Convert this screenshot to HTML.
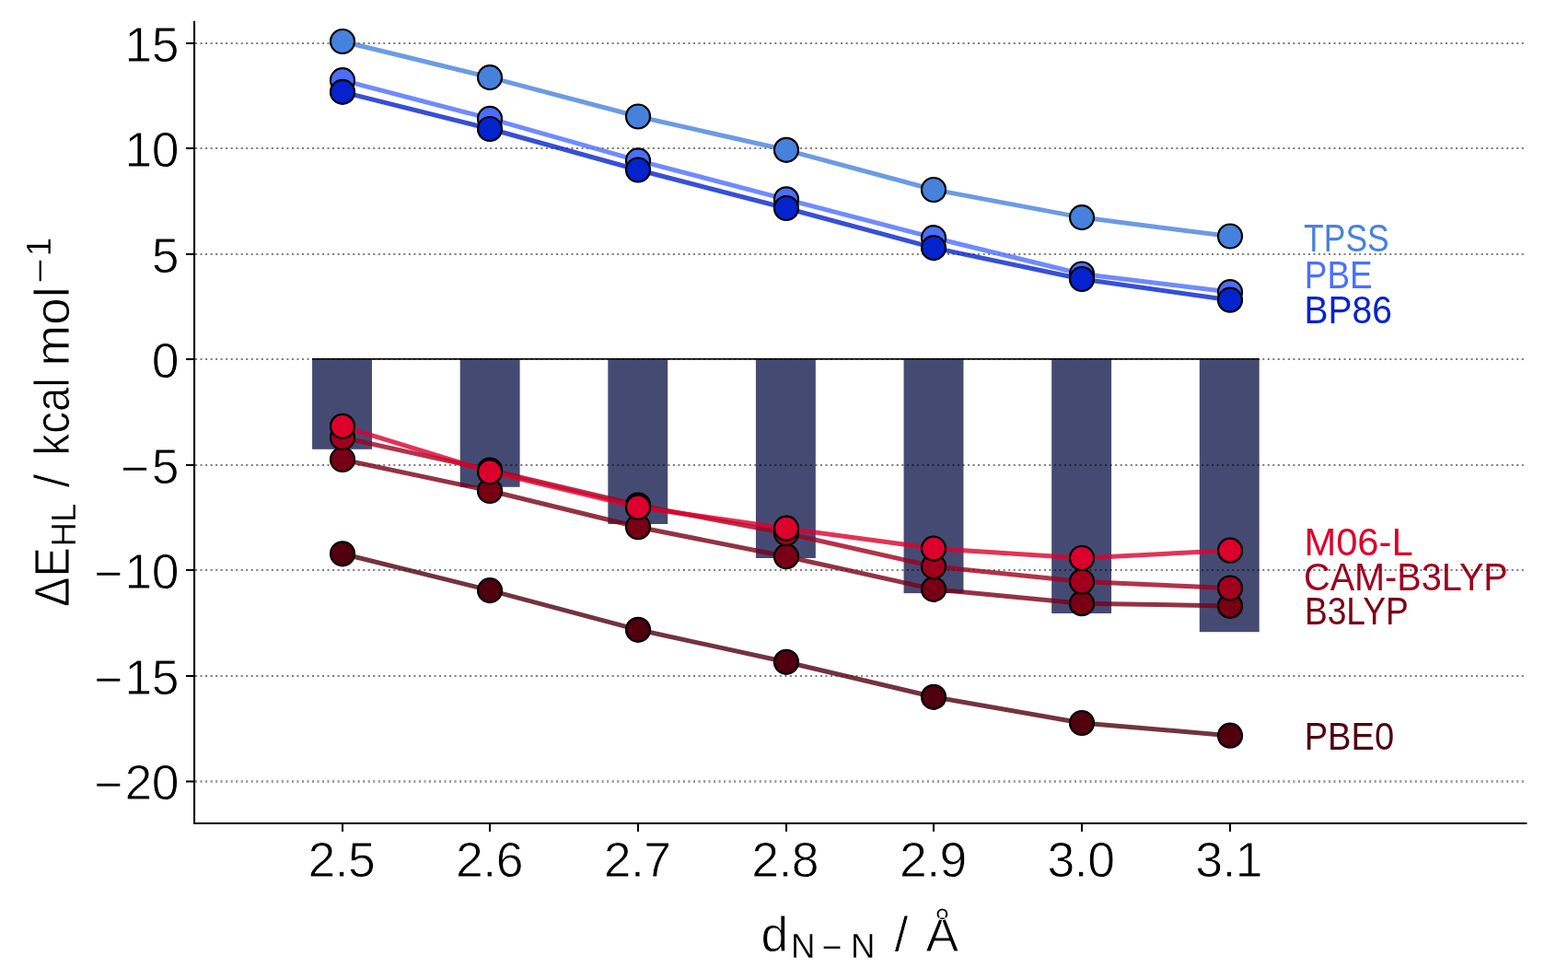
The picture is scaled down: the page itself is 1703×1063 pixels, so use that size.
<!DOCTYPE html>
<html lang="en">
<head>
<meta charset="utf-8">
<title>ΔE HL vs d N−N</title>
<style>
html,body{margin:0;padding:0;background:#fff;}
body{width:1703px;height:1063px;overflow:hidden;}
svg{display:block;}
text{font-family:"Liberation Sans", "DejaVu Sans", sans-serif;stroke:#fff;stroke-width:0.8px;stroke-linejoin:round;}
.tick{font-size:53.5px;fill:#000;letter-spacing:-0.5px;}
.lab{font-size:53.5px;fill:#000;}
.sm{font-size:36.6px;stroke-width:0.3px;}
.rl{font-size:43px;stroke:none;}
</style>
</head>
<body>
<svg xmlns="http://www.w3.org/2000/svg" width="1703" height="1063" viewBox="0 0 1703 1063">
<rect x="0" y="0" width="1703" height="1063" fill="#ffffff"/>
<g fill="#454A73">
<rect x="339.07" y="390.3" width="64.90" height="97.50"/>
<rect x="499.69" y="390.3" width="64.90" height="138.50"/>
<rect x="660.31" y="390.3" width="64.90" height="178.70"/>
<rect x="820.93" y="390.3" width="64.90" height="215.70"/>
<rect x="981.55" y="390.3" width="64.90" height="253.80"/>
<rect x="1142.17" y="390.3" width="64.90" height="275.70"/>
<rect x="1302.79" y="390.3" width="64.90" height="295.90"/>
</g>
<rect x="339" y="388.95" width="1028.8" height="1.7" fill="#000"/>
<text class="rl" x="1416.1" y="273.0" fill="#4682DC" textLength="92.6" lengthAdjust="spacingAndGlyphs">TPSS</text>
<text class="rl" x="1416.8" y="313.0" fill="#4B6EFF" textLength="73.8" lengthAdjust="spacingAndGlyphs">PBE</text>
<text class="rl" x="1416.6" y="351.0" fill="#0523CD" textLength="95.3" lengthAdjust="spacingAndGlyphs">BP86</text>
<text class="rl" x="1416.7" y="814.0" fill="#50000F" textLength="97.4" lengthAdjust="spacingAndGlyphs">PBE0</text>
<text class="rl" x="1416.9" y="678.0" fill="#780014" textLength="112.9" lengthAdjust="spacingAndGlyphs">B3LYP</text>
<text class="rl" x="1416.0" y="641.0" fill="#A0001E" textLength="221.8" lengthAdjust="spacingAndGlyphs">CAM-B3LYP</text>
<text class="rl" x="1416.4" y="603.0" fill="#DC002D" textLength="118.2" lengthAdjust="spacingAndGlyphs">M06-L</text>
<g stroke="#000" stroke-opacity="0.5" stroke-width="2.08" stroke-dasharray="2.08 3.44" fill="none">
<line x1="212" y1="47.00" x2="1657.5" y2="47.00"/>
<line x1="212" y1="161.00" x2="1657.5" y2="161.00"/>
<line x1="212" y1="276.00" x2="1657.5" y2="276.00"/>
<line x1="212" y1="390.00" x2="1657.5" y2="390.00"/>
<line x1="212" y1="505.00" x2="1657.5" y2="505.00"/>
<line x1="212" y1="619.00" x2="1657.5" y2="619.00"/>
<line x1="212" y1="734.00" x2="1657.5" y2="734.00"/>
<line x1="212" y1="848.50" x2="1657.5" y2="848.50" stroke-width="3" stroke-opacity="0.38"/>
</g>
<g>
<polyline points="371.9,45.0 532.5,84.1 693.1,126.5 853.7,162.8 1014.4,206.0 1175.0,236.1 1335.6,256.5" fill="none" stroke="#4682DC" stroke-opacity="0.8" stroke-width="5.0" stroke-linejoin="round" stroke-linecap="butt"/>
<g fill="#4682DC" stroke="#000" stroke-width="2.2">
<circle cx="372" cy="45.0" r="13"/>
<circle cx="532" cy="84.1" r="13"/>
<circle cx="693" cy="126.5" r="13"/>
<circle cx="854" cy="162.8" r="13"/>
<circle cx="1014" cy="206.0" r="13"/>
<circle cx="1175" cy="236.1" r="13"/>
<circle cx="1336" cy="256.5" r="13"/>
</g>
</g>
<g>
<polyline points="371.9,87.2 532.5,128.9 693.1,174.4 853.7,216.3 1014.4,258.2 1175.0,297.5 1335.6,317.1" fill="none" stroke="#4B6EFF" stroke-opacity="0.8" stroke-width="5.0" stroke-linejoin="round" stroke-linecap="butt"/>
<g fill="#4B6EFF" stroke="#000" stroke-width="2.2">
<circle cx="372" cy="87.2" r="13"/>
<circle cx="532" cy="128.9" r="13"/>
<circle cx="693" cy="174.4" r="13"/>
<circle cx="854" cy="216.3" r="13"/>
<circle cx="1014" cy="258.2" r="13"/>
<circle cx="1175" cy="297.5" r="13"/>
<circle cx="1336" cy="317.1" r="13"/>
</g>
</g>
<g>
<polyline points="371.9,99.9 532.5,140.0 693.1,184.5 853.7,226.0 1014.4,269.1 1175.0,303.0 1335.6,325.7" fill="none" stroke="#0523CD" stroke-opacity="0.8" stroke-width="5.0" stroke-linejoin="round" stroke-linecap="butt"/>
<g fill="#0523CD" stroke="#000" stroke-width="2.2">
<circle cx="372" cy="99.9" r="13"/>
<circle cx="532" cy="140.0" r="13"/>
<circle cx="693" cy="184.5" r="13"/>
<circle cx="854" cy="226.0" r="13"/>
<circle cx="1014" cy="269.1" r="13"/>
<circle cx="1175" cy="303.0" r="13"/>
<circle cx="1336" cy="325.7" r="13"/>
</g>
</g>
<g>
<polyline points="371.9,601.3 532.5,641.1 693.1,683.8 853.7,718.8 1014.4,756.8 1175.0,785.0 1335.6,798.7" fill="none" stroke="#50000F" stroke-opacity="0.8" stroke-width="5.0" stroke-linejoin="round" stroke-linecap="butt"/>
<g fill="#50000F" stroke="#000" stroke-width="2.2">
<circle cx="372" cy="601.3" r="13"/>
<circle cx="532" cy="641.1" r="13"/>
<circle cx="693" cy="683.8" r="13"/>
<circle cx="854" cy="718.8" r="13"/>
<circle cx="1014" cy="756.8" r="13"/>
<circle cx="1175" cy="785.0" r="13"/>
<circle cx="1336" cy="798.7" r="13"/>
</g>
</g>
<g>
<polyline points="371.9,499.0 532.5,533.0 693.1,572.2 853.7,604.2 1014.4,639.9 1175.0,655.2 1335.6,657.9" fill="none" stroke="#780014" stroke-opacity="0.8" stroke-width="5.0" stroke-linejoin="round" stroke-linecap="butt"/>
<g fill="#780014" stroke="#000" stroke-width="2.2">
<circle cx="372" cy="499.0" r="13"/>
<circle cx="532" cy="533.0" r="13"/>
<circle cx="693" cy="572.2" r="13"/>
<circle cx="854" cy="604.2" r="13"/>
<circle cx="1014" cy="639.9" r="13"/>
<circle cx="1175" cy="655.2" r="13"/>
<circle cx="1336" cy="657.9" r="13"/>
</g>
</g>
<g>
<polyline points="371.9,475.0 532.5,510.5 693.1,548.5 853.7,579.0 1014.4,615.1 1175.0,631.5 1335.6,638.5" fill="none" stroke="#A0001E" stroke-opacity="0.8" stroke-width="5.0" stroke-linejoin="round" stroke-linecap="butt"/>
<g fill="#A0001E" stroke="#000" stroke-width="2.2">
<circle cx="372" cy="475.0" r="13"/>
<circle cx="532" cy="510.5" r="13"/>
<circle cx="693" cy="548.5" r="13"/>
<circle cx="854" cy="579.0" r="13"/>
<circle cx="1014" cy="615.1" r="13"/>
<circle cx="1175" cy="631.5" r="13"/>
<circle cx="1336" cy="638.5" r="13"/>
</g>
</g>
<g>
<polyline points="371.9,462.8 532.5,512.3 693.1,550.7 853.7,573.7 1014.4,595.6 1175.0,606.0 1335.6,597.7" fill="none" stroke="#DC002D" stroke-opacity="0.8" stroke-width="5.0" stroke-linejoin="round" stroke-linecap="butt"/>
<g fill="#DC002D" stroke="#000" stroke-width="2.2">
<circle cx="372" cy="462.8" r="13"/>
<circle cx="532" cy="512.3" r="13"/>
<circle cx="693" cy="550.7" r="13"/>
<circle cx="854" cy="573.7" r="13"/>
<circle cx="1014" cy="595.6" r="13"/>
<circle cx="1175" cy="606.0" r="13"/>
<circle cx="1336" cy="597.7" r="13"/>
</g>
</g>
<g stroke="#000" stroke-width="2.08" fill="none" stroke-linecap="square">
<path d="M211.05 23.8 V894 H1657.3"/>
</g>
<g stroke="#000" stroke-width="2.08" fill="none">
<line x1="202" y1="47.00" x2="211" y2="47.00"/>
<line x1="202" y1="161.00" x2="211" y2="161.00"/>
<line x1="202" y1="276.00" x2="211" y2="276.00"/>
<line x1="202" y1="390.00" x2="211" y2="390.00"/>
<line x1="202" y1="505.00" x2="211" y2="505.00"/>
<line x1="202" y1="619.00" x2="211" y2="619.00"/>
<line x1="202" y1="734.00" x2="211" y2="734.00"/>
<line x1="202" y1="848.50" x2="211" y2="848.50"/>
<line x1="372" y1="894" x2="372" y2="903"/>
<line x1="532" y1="894" x2="532" y2="903"/>
<line x1="693" y1="894" x2="693" y2="903"/>
<line x1="854" y1="894" x2="854" y2="903"/>
<line x1="1014" y1="894" x2="1014" y2="903"/>
<line x1="1175" y1="894" x2="1175" y2="903"/>
<line x1="1336" y1="894" x2="1336" y2="903"/>
</g>
<g class="tick">
<text x="193.9" y="67.0" text-anchor="end">15</text>
<text x="193.9" y="181.0" text-anchor="end">10</text>
<text x="193.9" y="296.0" text-anchor="end">5</text>
<text x="193.9" y="410.0" text-anchor="end">0</text>
<text><tspan x="130.8" y="527.3">−</tspan><tspan x="193.9" y="525.0" text-anchor="end">5</tspan></text>
<text><tspan x="101.9" y="641.3">−</tspan><tspan x="193.9" y="639.0" text-anchor="end">10</tspan></text>
<text><tspan x="101.9" y="756.3">−</tspan><tspan x="193.9" y="754.0" text-anchor="end">15</tspan></text>
<text><tspan x="101.9" y="870.3">−</tspan><tspan x="193.9" y="868.0" text-anchor="end">20</tspan></text>
</g>
<g class="tick" text-anchor="middle">
<text x="370.9" y="952">2.5</text>
<text x="531.5" y="952">2.6</text>
<text x="692.1" y="952">2.7</text>
<text x="852.7" y="952">2.8</text>
<text x="1013.4" y="952">2.9</text>
<text x="1174.0" y="952">3.0</text>
<text x="1334.6" y="952">3.1</text>
</g>
<text class="lab" y="1032.9"><tspan x="826.4">d</tspan><tspan class="sm" x="858.9" y="1040.1">N</tspan><tspan class="sm" x="892.6" y="1040.6" textLength="21.9" lengthAdjust="spacingAndGlyphs">−</tspan><tspan class="sm" x="924.0" y="1040.1">N </tspan><tspan x="971.5" y="1032.9">/ </tspan><tspan x="1005.5" y="1032.9">Å</tspan></text>
<text class="lab" transform="translate(74.9 657.6) rotate(-90)" y="0"><tspan x="-1.4" textLength="64.8" lengthAdjust="spacingAndGlyphs">ΔE</tspan><tspan class="sm" x="64.2" y="7">HL </tspan><tspan x="128.2" y="0">/ </tspan><tspan x="163.0" y="0" textLength="84.5" lengthAdjust="spacingAndGlyphs">kcal</tspan><tspan x="246" y="0"> </tspan><tspan x="260.0" y="0">mol</tspan><tspan class="sm" x="349.6" y="-19.3" textLength="27.6" lengthAdjust="spacingAndGlyphs">−</tspan><tspan class="sm" x="379.4" y="-20" font-size="38.5px">1</tspan></text>
</svg>
</body>
</html>
